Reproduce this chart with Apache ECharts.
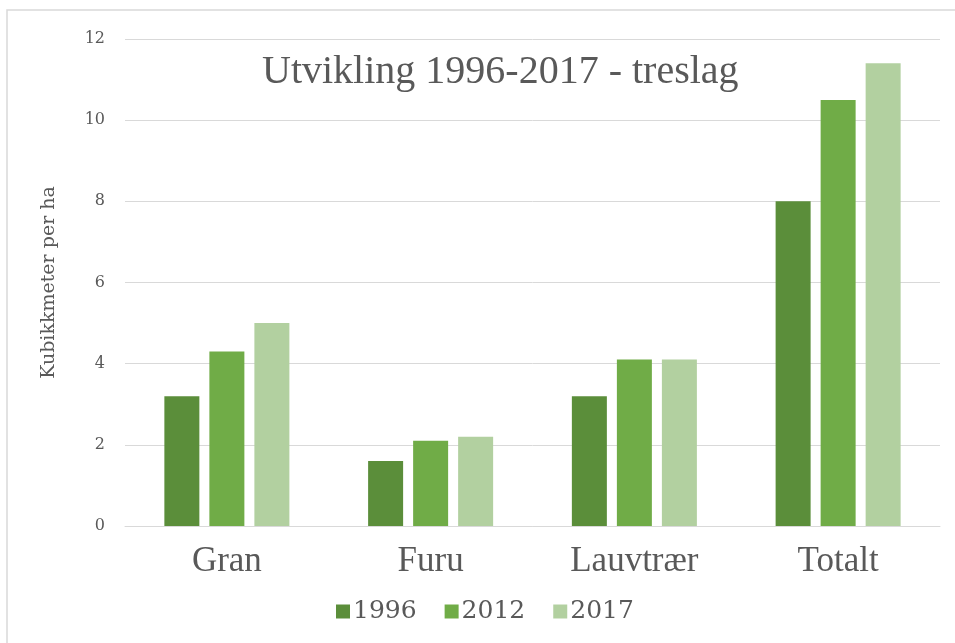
<!DOCTYPE html>
<html>
<head>
<meta charset="utf-8">
<script src="https://cdn.jsdelivr.net/npm/echarts@6/dist/echarts.min.js"></script>
<style>
  html, body { margin: 0; padding: 0; background: #fff; }
  #main { width: 955px; height: 643px; }
</style>
</head>
<body>
<div id="main"></div>
<script>
// treslag og år
const categories = ['Gran', 'Furu', 'Lauvtrær', 'Totalt'];
const years = ['1996', '2012', '2017'];
const values1996 = [3.2, 1.6, 3.2, 8.0];
const values2012 = [4.3, 2.1, 4.1, 10.5];
const values2017 = [5.0, 2.2, 4.1, 11.4];
const yTicks = [0, 2, 4, 6, 8, 10, 12];

const colors = ['#5b8e3a', '#70ac47', '#b2d0a0'];
const textGray = '#595959';
const lineGray = '#d9d9d9';

const seriesData = [values1996, values2012, values2017];

const myChart = echarts.init(document.getElementById('main'));

myChart.setOption({
  animation: false,
  title: {
    text: 'Utvikling 1996-2017 - treslag',
    left: 257,
    top: 47,
    textStyle: {
      fontFamily: 'Liberation Serif',
      fontSize: 40,
      fontWeight: 'normal',
      color: textGray
    }
  },
  legend: {
    data: years,
    left: 331,
    top: 594,
    itemWidth: 14,
    itemHeight: 14,
    itemGap: 28,
    icon: 'rect',
    textStyle: {
      fontFamily: 'DejaVu Serif',
      fontSize: 25,
      color: textGray,
      padding: [0, 0, 0, -2]
    }
  },
  grid: { left: 125, right: 15, top: 39, bottom: 117 },
  xAxis: {
    type: 'category',
    data: categories,
    axisTick: { show: false },
    axisLine: { lineStyle: { color: lineGray, width: 1 } },
    axisLabel: {
      margin: 18,
      fontFamily: 'Liberation Serif',
      fontSize: 35,
      color: textGray
    }
  },
  yAxis: {
    type: 'value',
    min: yTicks[0],
    max: yTicks[yTicks.length - 1],
    interval: 2,
    name: 'Kubikkmeter per ha',
    nameLocation: 'middle',
    nameGap: 66,
    nameTextStyle: {
      fontFamily: 'DejaVu Serif',
      fontSize: 19,
      color: textGray
    },
    axisLine: { show: false },
    axisTick: { show: false },
    axisLabel: {
      margin: 20,
      fontFamily: 'DejaVu Serif',
      fontSize: 16,
      color: textGray
    },
    splitLine: { lineStyle: { color: lineGray, width: 1 } }
  },
  graphic: [{
    type: 'rect',
    silent: true,
    shape: { x: 7, y: 10, width: 1000, height: 700 },
    style: { fill: 'none', stroke: lineGray, lineWidth: 1.5 }
  }],
  series: years.map((y, i) => ({
    name: y,
    type: 'bar',
    data: seriesData[i],
    barWidth: 35,
    barGap: '28.6%',
    itemStyle: { color: colors[i] }
  }))
});
</script>
</body>
</html>
